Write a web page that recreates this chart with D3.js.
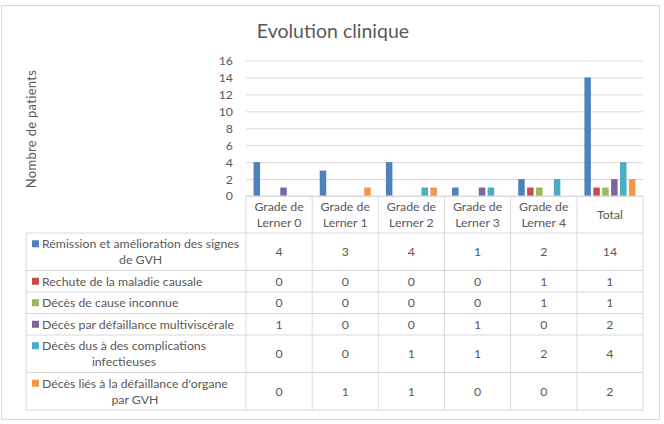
<!DOCTYPE html>
<html>
<head>
<meta charset="utf-8">
<script src="https://cdn.jsdelivr.net/npm/d3@7"></script>
<style>
  body { margin: 0; background: #fff; }
  text { font-family: Lato, "Open Sans", sans-serif; fill: #595959; }
</style>
</head>
<body>
<div id="chart-area"></div>
<script>
// Categories (columns of the data table)
let categories = ["Grade de Lerner 0", "Grade de Lerner 1", "Grade de Lerner 2", "Grade de Lerner 3", "Grade de Lerner 4", "Total"];

// Series names (legend / table rows), with line breaks as in the table
let seriesLabels = [
	["Rémission et amélioration des signes", "de GVH"],
	["Rechute de la maladie causale"],
	["Décès de cause inconnue"],
	["Décès par défaillance multiviscérale"],
	["Décès dus à des complications", "infectieuses"],
	["Décès liés à la défaillance d'organe", "par GVH"]
];

// Series values
let remission = [4, 3, 4, 1, 2, 14];
let rechute = [0, 0, 0, 0, 1, 1];
let causeInconnue = [0, 0, 0, 0, 1, 1];
let multiviscerale = [1, 0, 0, 1, 0, 2];
let infectieuses = [0, 0, 1, 1, 2, 4];
let organeGVH = [0, 1, 1, 0, 0, 2];

let yTicks = [0, 2, 4, 6, 8, 10, 12, 14, 16];
let colors = ["#4F81BD", "#C0504D", "#9BBB59", "#8064A2", "#4BACC6", "#F79646"];

let seriesValues = [remission, rechute, causeInconnue, multiviscerale, infectieuses, organeGVH];
let series = seriesLabels.map((lines, i) => ({ lines: lines, values: seriesValues[i], color: colors[i] }));

let width = 664, height = 424;
let fs = "12.3px";

let svg = d3.select("#chart-area").append("svg")
	.attr("width", width)
	.attr("height", height);

// Outer border
svg.append("rect")
	.attr("x", 1.5).attr("y", 5.5)
	.attr("width", 658).attr("height", 414)
	.attr("fill", "#fff")
	.attr("stroke", "#d9d9d9");

// Title
svg.append("text")
	.attr("x", 333).attr("y", 38)
	.attr("text-anchor", "middle")
	.style("font-size", "19.5px")
	.text("Evolution clinique");

// Y-axis label
svg.append("text")
	.attr("transform", "translate(36,129) rotate(-90)")
	.attr("text-anchor", "middle")
	.style("font-size", "13px")
	.style("letter-spacing", "0.3px")
	.text("Nombre de patients");

let plot = { left: 246, right: 643, top: 60.5, bottom: 196 };

// Scales
let x0 = d3.scaleBand()
	.domain(categories)
	.range([plot.left, plot.right]);

let x1 = d3.scaleBand()
	.domain(d3.range(series.length))
	.range([0, x0.bandwidth()])
	.paddingInner(0.27)
	.paddingOuter(0.85);

let y = d3.scaleLinear()
	.domain([0, 16])
	.range([plot.bottom, plot.top]);

// Gridlines + y ticks
let yAxis = d3.axisLeft(y)
	.tickValues(yTicks)
	.tickSize(-(plot.right - plot.left))
	.tickPadding(13);

let yG = svg.append("g")
	.attr("transform", "translate(" + plot.left + ",0)")
	.call(yAxis);
yG.select(".domain").remove();
yG.selectAll("line").attr("stroke", "#d9d9d9");
yG.selectAll("text")
	.style("font-family", "Lato, sans-serif")
	.style("font-size", fs)
	.attr("fill", "#595959");

// Bars
let groups = svg.selectAll(".cat")
	.data(categories)
	.enter()
	.append("g")
	.attr("class", "cat")
	.attr("transform", d => "translate(" + x0(d) + ",0)");

groups.selectAll("rect")
	.data((d, ci) => series.map((s, si) => ({ si: si, v: s.values[ci], color: s.color })))
	.enter()
	.append("rect")
	.attr("x", d => x1(d.si))
	.attr("width", x1.bandwidth())
	.attr("y", d => y(d.v))
	.attr("height", d => plot.bottom - y(d.v))
	.attr("fill", d => d.color);

// Data table
let lineH = 16;
let headerBottom = 233;
let tableLeft = 26;
let rowTops = [];
let t = headerBottom;
series.forEach(s => {
	rowTops.push(t);
	t += 5.5 + lineH * s.lines.length;
});
let tableBottom = t;

let grid = svg.append("g").attr("stroke", "#d9d9d9").attr("stroke-width", 1);

// header top line
grid.append("line")
	.attr("x1", plot.left).attr("x2", plot.right)
	.attr("y1", plot.bottom).attr("y2", plot.bottom);

// row lines
rowTops.concat([tableBottom]).forEach(ry => {
	grid.append("line")
		.attr("x1", tableLeft).attr("x2", plot.right)
		.attr("y1", ry).attr("y2", ry);
});

// vertical lines
grid.append("line")
	.attr("x1", tableLeft).attr("x2", tableLeft)
	.attr("y1", headerBottom).attr("y2", tableBottom);
categories.forEach(c => {
	grid.append("line")
		.attr("x1", x0(c)).attr("x2", x0(c))
		.attr("y1", plot.bottom).attr("y2", tableBottom);
});
grid.append("line")
	.attr("x1", plot.right).attr("x2", plot.right)
	.attr("y1", plot.bottom).attr("y2", tableBottom);

// header labels
categories.forEach(c => {
	let lines = c.startsWith("Grade de ") ? ["Grade de", c.replace("Grade de ", "")] : [c];
	let cy = (plot.bottom + headerBottom) / 2;
	lines.forEach((ln, i) => {
		svg.append("text")
			.attr("x", x0(c) + x0.bandwidth() / 2)
			.attr("y", cy + (i - (lines.length - 1) / 2) * lineH)
			.attr("dy", "0.35em")
			.attr("text-anchor", "middle")
			.style("font-size", fs)
			.text(ln);
	});
});

// row labels + values
series.forEach((s, si) => {
	let top = rowTops[si];
	let h = 5.5 + lineH * s.lines.length;
	let cy = top + h / 2;
	let firstY = cy - (s.lines.length - 1) / 2 * lineH;

	svg.append("rect")
		.attr("x", 32).attr("y", firstY - 3.5)
		.attr("width", 7).attr("height", 7)
		.attr("fill", s.color);

	let texts = s.lines.map((ln, i) => svg.append("text")
		.attr("x", 42)
		.attr("y", firstY + i * lineH)
		.attr("dy", "0.35em")
		.style("font-size", fs)
		.text(ln));
	let widths = texts.map(tx => tx.node().getComputedTextLength());
	let maxW = d3.max(widths);
	texts.forEach((tx, i) => tx.attr("x", 42 + (maxW - widths[i]) / 2));

	categories.forEach((c, ci) => {
		svg.append("text")
			.attr("x", x0(c) + x0.bandwidth() / 2)
			.attr("y", cy)
			.attr("dy", "0.35em")
			.attr("text-anchor", "middle")
			.style("font-size", fs)
			.text(s.values[ci]);
	});
});
</script>
</body>
</html>
